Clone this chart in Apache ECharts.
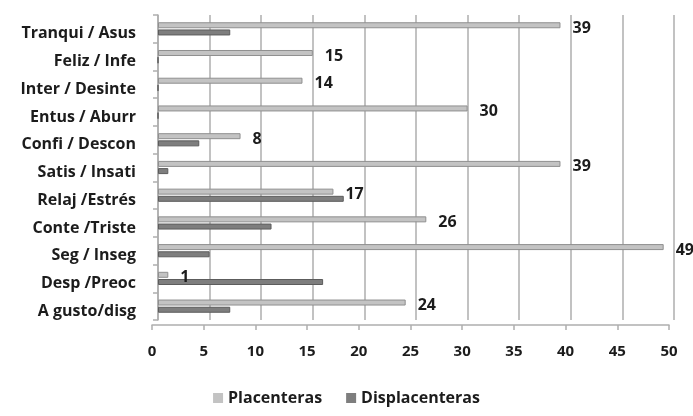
<!DOCTYPE html>
<html>
<head>
<meta charset="utf-8">
<script src="https://cdn.jsdelivr.net/npm/echarts@6/dist/echarts.min.js"></script>
<style>
  html, body { margin: 0; padding: 0; background: #ffffff; }
  #chart { width: 693px; height: 416px; }
</style>
</head>
<body>
<div id="chart"></div>
<script>
// Emotion pairs, listed top to bottom
const categories = [
  'Tranqui / Asus', 'Feliz / Infe', 'Inter / Desinte', 'Entus / Aburr',
  'Confi / Descon', 'Satis / Insati', 'Relaj /Estrés', 'Conte /Triste',
  'Seg / Inseg', 'Desp /Preoc', 'A gusto/disg'
];
const placenteras = [39, 15, 14, 30, 8, 39, 17, 26, 49, 1, 24];
const displacenteras = [7, 0, 0, 0, 4, 1, 18, 11, 5, 16, 7];
const seriesNames = ['Placenteras', 'Displacenteras'];
const xTicks = { min: 0, max: 50, interval: 5 };

const FONT = '"Open Sans", Lato, sans-serif';
const TEXT = '#1c1c1c';
const GRID_GRAY = '#aeaeae';

const chart = echarts.init(document.getElementById('chart'), null, { renderer: 'canvas' });

chart.setOption({
  backgroundColor: '#ffffff',
  animation: false,
  legend: {
    data: seriesNames,
    bottom: 5,
    left: 'center',
    itemWidth: 10,
    itemHeight: 10,
    itemGap: 24,
    icon: 'rect',
    itemStyle: { borderWidth: 0 },
    textStyle: { fontFamily: FONT, fontWeight: 'bold', fontSize: 16, color: TEXT }
  },
  grid: [
    // back wall: bars and gridlines
    { left: 158, width: 516, top: 15, bottom: 96 },
    // front floor edge: tick marks and value labels
    { left: 152, width: 517, top: 15, bottom: 91 }
  ],
  xAxis: [
    {
      type: 'value', gridIndex: 0,
      min: xTicks.min, max: xTicks.max, interval: xTicks.interval,
      axisLine: { show: false },
      axisTick: { show: false },
      axisLabel: { show: false },
      splitLine: { show: true, lineStyle: { color: GRID_GRAY, width: 1.5 } }
    },
    {
      type: 'value', gridIndex: 1,
      min: xTicks.min, max: xTicks.max, interval: xTicks.interval,
      axisLine: { show: true, lineStyle: { color: GRID_GRAY, width: 1.5 } },
      axisTick: { show: true, length: 5, lineStyle: { color: GRID_GRAY, width: 1.5 } },
      axisLabel: {
        margin: 19, fontFamily: FONT, fontWeight: 'bold', fontSize: 15, color: TEXT
      },
      splitLine: { show: false }
    }
  ],
  yAxis: [
    {
      type: 'category', gridIndex: 0,
      data: categories,
      inverse: true,
      axisLine: { show: true, lineStyle: { color: GRID_GRAY, width: 1.5 } },
      axisTick: { show: true, length: 5, lineStyle: { color: GRID_GRAY, width: 1.5 } },
      axisLabel: {
        margin: 22,
        formatter: (v) => '{c|' + v + '}',
        rich: {
          // nudges each name down toward the darker bar of its pair
          c: {
            fontFamily: FONT, fontWeight: 'bold', fontSize: 16, color: TEXT,
            padding: [10, 0, 0, 0]
          }
        }
      },
      splitLine: { show: false }
    },
    {
      type: 'category', gridIndex: 1,
      data: categories, inverse: true, show: false
    }
  ],
  series: [
    {
      name: seriesNames[0],
      type: 'bar',
      xAxisIndex: 0, yAxisIndex: 0,
      data: placenteras,
      barWidth: 6,
      barGap: '20%',
      itemStyle: { color: '#c3c3c3', borderColor: '#8f8f8f', borderWidth: 1 },
      label: {
        show: true, position: 'right', distance: 12,
        offset: [0, 3],
        fontFamily: FONT, fontWeight: 'bold', fontSize: 16, color: TEXT
      }
    },
    {
      name: seriesNames[1],
      type: 'bar',
      xAxisIndex: 0, yAxisIndex: 0,
      data: displacenteras,
      barWidth: 6,
      itemStyle: { color: '#7e7e7e', borderColor: '#5c5c5c', borderWidth: 1 }
    }
  ]
});
</script>
</body>
</html>
